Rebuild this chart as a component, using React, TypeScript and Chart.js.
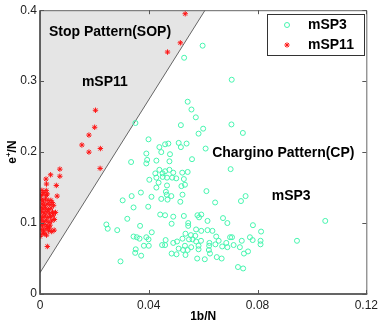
import React, { useEffect, useRef } from "react";
import { Chart, registerables } from "chart.js";

Chart.register(...registerables);

const xTickValues = [0, 0.04, 0.08, 0.12];
const xTickLabels = ["0", "0.04", "0.08", "0.12"];
const yTickValues = [0, 0.1, 0.2, 0.3, 0.4];
const yTickLabels = ["0", "0.1", "0.2", "0.3", "0.4"];

// boundary of Stop Pattern region: [x, y]
const boundaryX = [0, 0.0607];
const boundaryY = [0.03, 0.4];

const mSP3X = [
  0.053, 0.0598, 0.0705, 0.0351, 0.0543, 0.0557, 0.0573, 0.0518, 0.0704, 0.0746, 0.06, 0.0583, 0.0399,
  0.0439, 0.046, 0.0472, 0.0446, 0.0478, 0.051, 0.0518, 0.0539, 0.0609, 0.0391, 0.0394, 0.0391, 0.0428,
  0.0476, 0.0335, 0.0559, 0.0701, 0.0523, 0.0543, 0.0424, 0.0439, 0.0451, 0.046, 0.0476, 0.049, 0.0428,
  0.0451, 0.0467, 0.0486, 0.0501, 0.0529, 0.0402, 0.0436, 0.0467, 0.0428, 0.052, 0.0533, 0.0463, 0.0466,
  0.0483, 0.0524, 0.041, 0.0446, 0.0469, 0.0337, 0.0371, 0.0304, 0.0516, 0.0612, 0.0756, 0.0739, 0.0644,
  0.0344, 0.0398, 0.0442, 0.046, 0.049, 0.0529, 0.0579, 0.0593, 0.0585, 0.0616, 0.0673, 0.0689, 0.0321,
  0.0484, 0.0545, 0.0545, 0.0783, 0.1049, 0.0368, 0.0244, 0.0249, 0.0284, 0.0411, 0.0574, 0.0593, 0.0616,
  0.0634, 0.0813, 0.0535, 0.0555, 0.0571, 0.0648, 0.0699, 0.0706, 0.0772, 0.0782, 0.0344, 0.0356, 0.0366,
  0.0391, 0.0399, 0.0462, 0.0504, 0.049, 0.0524, 0.0548, 0.0561, 0.0574, 0.0592, 0.0623, 0.0622, 0.0657,
  0.0685, 0.0742, 0.0811, 0.0811, 0.0945, 0.0382, 0.04, 0.0449, 0.046, 0.051, 0.0533, 0.0556, 0.0583,
  0.0583, 0.0645, 0.067, 0.0689, 0.0712, 0.0735, 0.0765, 0.075, 0.0352, 0.035, 0.0484, 0.0502, 0.0526,
  0.0543, 0.0535, 0.0621, 0.0625, 0.0372, 0.0578, 0.0606, 0.065, 0.0668, 0.0296, 0.0728, 0.0747,
];
const mSP3Y = [
  0.333, 0.35, 0.302, 0.241, 0.271, 0.26, 0.249, 0.238, 0.239, 0.227, 0.233, 0.226, 0.218,
  0.207, 0.211, 0.212, 0.2, 0.197, 0.213, 0.207, 0.212, 0.205, 0.198, 0.189, 0.184, 0.188,
  0.187, 0.186, 0.19, 0.176, 0.171, 0.172, 0.17, 0.175, 0.17, 0.173, 0.175, 0.171, 0.164,
  0.165, 0.164, 0.164, 0.163, 0.162, 0.161, 0.157, 0.153, 0.15, 0.152, 0.154, 0.144, 0.14,
  0.138, 0.14, 0.137, 0.134, 0.133, 0.138, 0.143, 0.132, 0.13, 0.145, 0.138, 0.131, 0.129,
  0.122, 0.123, 0.112, 0.111, 0.109, 0.11, 0.111, 0.112, 0.108, 0.103, 0.107, 0.1, 0.106,
  0.099, 0.1, 0.096, 0.097, 0.103, 0.096, 0.098, 0.092, 0.09, 0.087, 0.091, 0.089, 0.09,
  0.089, 0.088, 0.085, 0.083, 0.082, 0.081, 0.08, 0.08, 0.08, 0.076, 0.081, 0.08, 0.078,
  0.08, 0.077, 0.076, 0.074, 0.072, 0.078, 0.077, 0.077, 0.074, 0.075, 0.072, 0.068, 0.075,
  0.072, 0.075, 0.075, 0.07, 0.075, 0.068, 0.068, 0.069, 0.069, 0.064, 0.068, 0.066, 0.068,
  0.063, 0.07, 0.067, 0.066, 0.069, 0.066, 0.06, 0.057, 0.063, 0.058, 0.057, 0.056, 0.062,
  0.062, 0.055, 0.062, 0.057, 0.054, 0.05, 0.049, 0.052, 0.05, 0.046, 0.038, 0.036,
];

const mSP11X = [
  0.0534, 0.0516, 0.0469, 0.0204, 0.0201, 0.018, 0.0154, 0.0222, 0.018, 0.0221, 0.0073, 0.0073, 0.0039,
  0.0022, 0.0024, 0.006, 0.0007, 0.0023, 0.0002, 0.0023, 0.0063, 0.0045, 0.0057, 0.0052, 0.0043, 0.0,
  0.0, 0.0027, 0.0015, 0.0024,
  0.0005, 0.0012, 0.002, 0.003, 0.0008, 0.0016, 0.0026, 0.0036, 0.0003, 0.0011, 0.0021, 0.0031, 0.0041,
  0.0006, 0.0015, 0.0025, 0.0035, 0.0046, 0.0002, 0.001, 0.0019, 0.0029, 0.0039, 0.0049, 0.0005, 0.0014,
  0.0023, 0.0033, 0.0043, 0.0001, 0.0009, 0.0018, 0.0028, 0.0037, 0.0004, 0.0013, 0.0022, 0.0032, 0.0008,
  0.0014, 0.0027, 0.005, 0.004, 0.0053, 0.0012, 0.0035,
];
const mSP11Y = [
  0.395, 0.354, 0.341, 0.259, 0.235, 0.224, 0.21, 0.205, 0.2, 0.177, 0.176, 0.166, 0.168,
  0.162, 0.155, 0.153, 0.146, 0.146, 0.139, 0.139, 0.138, 0.129, 0.115, 0.09, 0.088, 0.081,
  0.084, 0.067, 0.085, 0.083,
  0.133, 0.131, 0.134, 0.132, 0.127, 0.125, 0.127, 0.126, 0.122, 0.12, 0.121, 0.119, 0.121,
  0.116, 0.114, 0.116, 0.113, 0.115, 0.11, 0.108, 0.11, 0.108, 0.109, 0.111, 0.104, 0.102,
  0.104, 0.101, 0.103, 0.098, 0.096, 0.098, 0.095, 0.097, 0.091, 0.09, 0.092, 0.089, 0.14,
  0.143, 0.141, 0.125, 0.132, 0.105, 0.086, 0.093,
];

const seriesNames = ["mSP3", "mSP11"];
const annotations: { text: string; x: number; y: number }[] = [
  { text: "Stop Pattern(SOP)", x: 0.0033, y: 0.369 },
  { text: "mSP11", x: 0.0154, y: 0.2986 },
  { text: "Chargino Pattern(CP)", x: 0.0633, y: 0.1986 },
  { text: "mSP3", x: 0.0852, y: 0.138 },
];

const CYAN = "rgb(70, 245, 175)";
const RED = "rgb(255, 20, 20)";
const FONT = '"Liberation Sans", Arial, Helvetica, sans-serif';

function toPts(xs: number[], ys: number[]) {
  return xs.map((x, i) => ({ x, y: ys[i] }));
}

const decorPlugin = {
  id: "decor",
  afterDraw(chart: any) {
    const { ctx, chartArea, scales } = chart;
    const { left, right, top, bottom } = chartArea;
    const xs = scales.x;
    const ys = scales.y;
    ctx.save();
    // top/right frame
    ctx.strokeStyle = "#666";
    ctx.lineWidth = 1;
    ctx.beginPath();
    ctx.moveTo(left, top + 0.5);
    ctx.lineTo(right + 0.5, top + 0.5);
    ctx.lineTo(right + 0.5, bottom);
    ctx.stroke();
    // left/bottom axes
    ctx.strokeStyle = "#333";
    ctx.lineWidth = 1.5;
    ctx.beginPath();
    ctx.moveTo(left, top);
    ctx.lineTo(left, bottom);
    ctx.lineTo(right + 1, bottom);
    ctx.stroke();
    // inward ticks
    ctx.strokeStyle = "#555";
    ctx.lineWidth = 1;
    ctx.beginPath();
    xTickValues.forEach((v) => {
      const px = Math.round(xs.getPixelForValue(v)) + 0.5;
      ctx.moveTo(px, bottom);
      ctx.lineTo(px, bottom - 4);
      ctx.moveTo(px, top);
      ctx.lineTo(px, top + 4);
    });
    yTickValues.forEach((v) => {
      const py = Math.round(ys.getPixelForValue(v)) + 0.5;
      ctx.moveTo(left, py);
      ctx.lineTo(left + 4, py);
      ctx.moveTo(right, py);
      ctx.lineTo(right - 4, py);
    });
    ctx.stroke();

    // annotations
    ctx.fillStyle = "#000";
    ctx.font = `bold 14px ${FONT}`;
    ctx.textAlign = "left";
    ctx.textBaseline = "middle";
    annotations.forEach((a) => {
      ctx.fillText(a.text, xs.getPixelForValue(a.x), ys.getPixelForValue(a.y));
    });

    // axis titles
    ctx.font = `bold 12px ${FONT}`;
    ctx.textAlign = "center";
    ctx.textBaseline = "middle";
    ctx.fillText("1b/N", (left + right) / 2, 317);

    ctx.save();
    ctx.translate(13, (top + bottom) / 2);
    ctx.rotate(-Math.PI / 2);
    ctx.textAlign = "left";
    ctx.font = `bold 12px ${FONT}`;
    const wE = ctx.measureText("e").width;
    ctx.font = `bold 8px ${FONT}`;
    const wPlus = ctx.measureText("+").width;
    ctx.font = `bold 12px ${FONT}`;
    const wRest = ctx.measureText("/N").width;
    const total = wE + wPlus + wRest;
    let cx = -total / 2;
    ctx.fillText("e", cx, 0);
    cx += wE;
    ctx.font = `bold 8px ${FONT}`;
    ctx.fillText("+", cx, -4);
    cx += wPlus;
    ctx.font = `bold 12px ${FONT}`;
    ctx.fillText("/N", cx, 0);
    ctx.restore();

    // legend
    const lx = 267, ly = 14, lw = 97, lh = 41;
    ctx.fillStyle = "#fff";
    ctx.fillRect(lx, ly, lw, lh);
    ctx.strokeStyle = "#333";
    ctx.lineWidth = 1;
    ctx.strokeRect(lx + 0.5, ly + 0.5, lw, lh);
    // markers
    ctx.strokeStyle = CYAN;
    ctx.lineWidth = 1;
    ctx.beginPath();
    ctx.arc(287, 25, 2.5, 0, Math.PI * 2);
    ctx.stroke();
    ctx.strokeStyle = RED;
    ctx.beginPath();
    const r = 2.7;
    for (let k = 0; k < 4; k++) {
      const ang = (k * Math.PI) / 4;
      ctx.moveTo(287 + r * Math.cos(ang), 45 + r * Math.sin(ang));
      ctx.lineTo(287 - r * Math.cos(ang), 45 - r * Math.sin(ang));
    }
    ctx.stroke();
    ctx.fillStyle = "#000";
    ctx.font = `bold 14px ${FONT}`;
    ctx.textAlign = "left";
    ctx.textBaseline = "middle";
    ctx.fillText(seriesNames[0], 308, 25);
    ctx.fillText(seriesNames[1], 308, 45);
    ctx.restore();
  },
};

export default function App() {
  const canvasRef = useRef<HTMLCanvasElement | null>(null);

  useEffect(() => {
    if (!canvasRef.current) return;
    const chart = new Chart(canvasRef.current, {
      type: "scatter",
      data: {
        datasets: [
          {
            type: "line",
            label: "SOP boundary",
            data: toPts(boundaryX, boundaryY),
            fill: "end",
            backgroundColor: "#e5e5e5",
            borderColor: "#666",
            borderWidth: 1,
            pointRadius: 0,
            order: 10,
          } as any,
          {
            label: seriesNames[0],
            data: toPts(mSP3X, mSP3Y),
            pointStyle: "circle",
            pointRadius: 2.5,
            borderWidth: 1,
            borderColor: CYAN,
            backgroundColor: "rgba(0,0,0,0)",
            order: 1,
          },
          {
            label: seriesNames[1],
            data: toPts(mSP11X, mSP11Y),
            pointStyle: "star",
            pointRadius: 2.7,
            borderWidth: 1,
            borderColor: RED,
            backgroundColor: RED,
            order: 0,
          },
        ],
      },
      options: {
        responsive: false,
        animation: false,
        layout: { padding: { left: 0, right: 14, top: 10, bottom: 0 } },
        plugins: {
          legend: { display: false },
          tooltip: { enabled: false },
        },
        scales: {
          x: {
            type: "linear",
            min: 0,
            max: 0.12,
            afterBuildTicks: (scale: any) => {
              scale.ticks = xTickValues.map((v) => ({ value: v }));
            },
            afterFit: (scale: any) => {
              scale.height = 33;
            },
            ticks: {
              autoSkip: false,
              maxRotation: 0,
              padding: 4,
              color: "#222",
              font: { size: 12, family: FONT },
              callback: (v: any) => {
                const i = xTickValues.findIndex((t) => Math.abs(t - v) < 1e-9);
                return i >= 0 ? xTickLabels[i] : "";
              },
            },
            grid: { display: false, drawTicks: false },
            border: { display: false },
          },
          y: {
            type: "linear",
            min: 0,
            max: 0.4,
            afterBuildTicks: (scale: any) => {
              scale.ticks = yTickValues.map((v) => ({ value: v }));
            },
            afterFit: (scale: any) => {
              scale.width = 40;
            },
            ticks: {
              autoSkip: false,
              padding: 3,
              color: "#222",
              font: { size: 12, family: FONT },
              callback: (v: any) => {
                const i = yTickValues.findIndex((t) => Math.abs(t - v) < 1e-9);
                return i >= 0 ? yTickLabels[i] : "";
              },
            },
            grid: { display: false, drawTicks: false },
            border: { display: false },
          },
        },
      },
      plugins: [decorPlugin],
    });
    return () => chart.destroy();
  }, []);

  return (
    <div style={{ position: "fixed", left: 0, top: 0, width: 382, height: 327, background: "#fff" }}>
      <canvas ref={canvasRef} width={382} height={327} style={{ width: 382, height: 327, display: "block" }} />
    </div>
  );
}
